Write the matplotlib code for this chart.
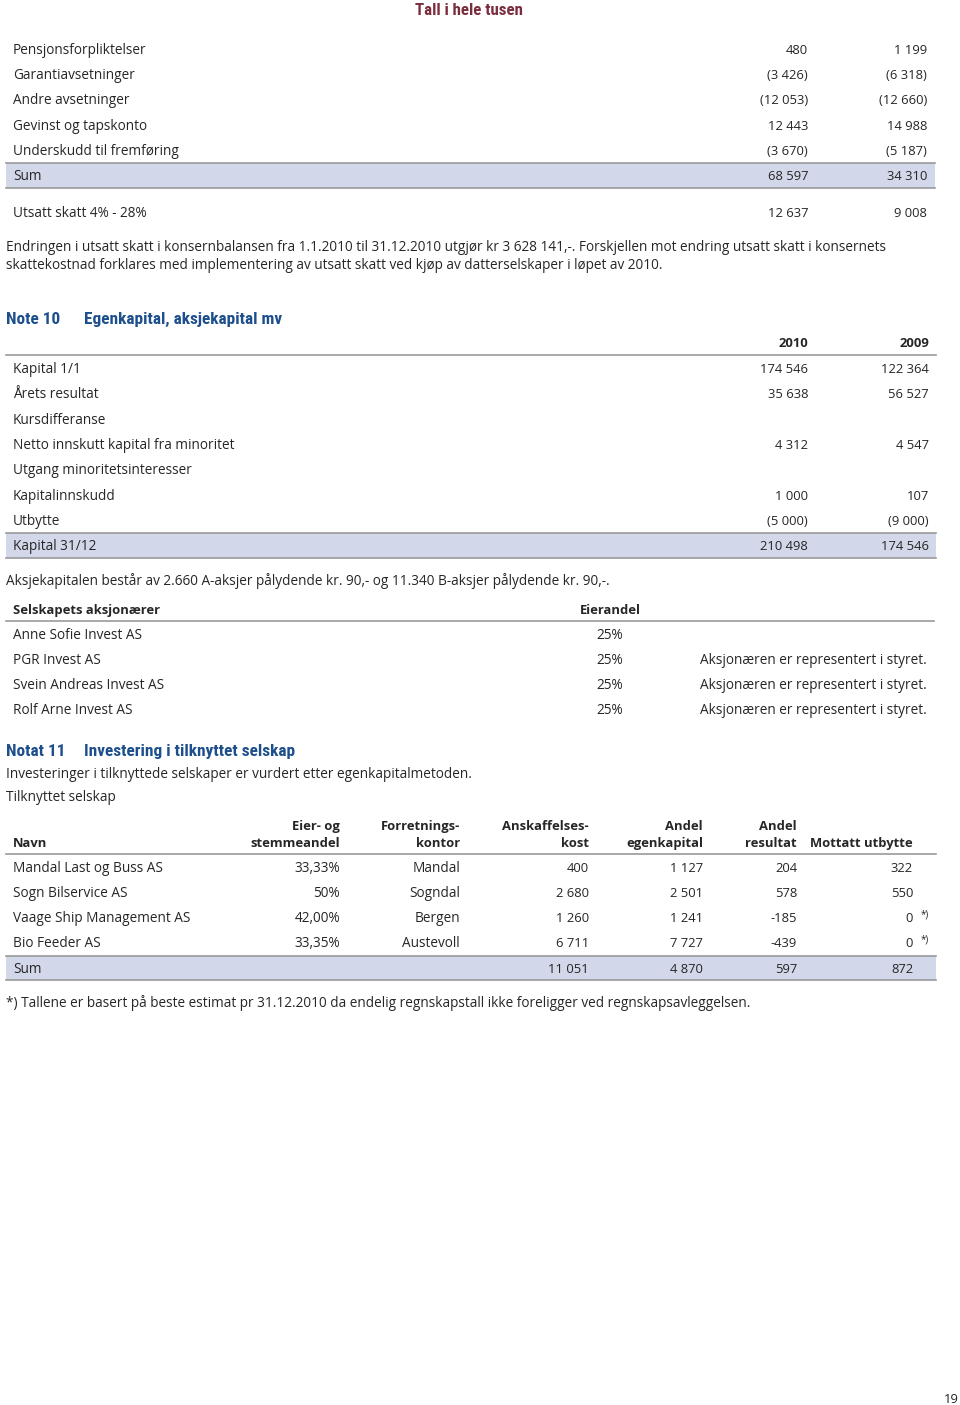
import matplotlib
matplotlib.use("Agg")
import matplotlib.pyplot as plt
from matplotlib.patches import Rectangle

plt.rcParams["font.family"] = ["Open Sans", "DejaVu Sans"]

RED = "#7b2c3d"
BLUE = "#1d4f8c"
TEXT = "#262626"
BAND = "#d3d7ea"
RULE = "#9a9a9a"
FS = 9.8      # body text
FN = 9.4      # numbers
FB = 9.4      # bold column heads
FH = 12.4     # note headings (condensed)
HEAD_FONT = ["Roboto Condensed", "DejaVu Sans"]

# --- data ---
page_title = "Tall i hele tusen"

tax_labels = ["Pensjonsforpliktelser", "Garantiavsetninger", "Andre avsetninger",
              "Gevinst og tapskonto", "Underskudd til fremføring", "Sum"]
tax_2010 = ["480", "(3 426)", "(12 053)", "12 443", "(3 670)", "68 597"]
tax_2009 = ["1 199", "(6 318)", "(12 660)", "14 988", "(5 187)", "34 310"]
deferred = ("Utsatt skatt 4% - 28%", "12 637", "9 008")
tax_note = [
    "Endringen i utsatt skatt i konsernbalansen fra 1.1.2010 til 31.12.2010 utgjør kr 3 628 141,-. "
    "Forskjellen mot endring utsatt skatt i konsernets",
    "skattekostnad forklares med implementering av utsatt skatt ved kjøp av datterselskaper i løpet av 2010.",
]

note10_title = ("Note 10", "Egenkapital, aksjekapital mv")
years = ["2010", "2009"]
eq_labels = ["Kapital 1/1", "Årets resultat", "Kursdifferanse",
             "Netto innskutt kapital fra minoritet", "Utgang minoritetsinteresser",
             "Kapitalinnskudd", "Utbytte", "Kapital 31/12"]
eq_2010 = ["174 546", "35 638", "", "4 312", "", "1 000", "(5 000)", "210 498"]
eq_2009 = ["122 364", "56 527", "", "4 547", "", "107", "(9 000)", "174 546"]
share_note = "Aksjekapitalen består av 2.660 A-aksjer pålydende kr. 90,- og 11.340 B-aksjer pålydende kr. 90,-."

holder_head = ["Selskapets aksjonærer", "Eierandel"]
holders = ["Anne Sofie Invest AS", "PGR Invest AS", "Svein Andreas Invest AS", "Rolf Arne Invest AS"]
holder_share = ["25%", "25%", "25%", "25%"]
holder_comment = ["", "Aksjonæren er representert i styret.",
                  "Aksjonæren er representert i styret.", "Aksjonæren er representert i styret."]

note11_title = ("Notat 11", "Investering i tilknyttet selskap")
note11_lines = ["Investeringer i tilknyttede selskaper er vurdert etter egenkapitalmetoden.",
                "Tilknyttet selskap"]
assoc_head_top = ["", "Eier- og", "Forretnings-", "Anskaffelses-", "Andel", "Andel", ""]
assoc_head_bot = ["Navn", "stemmeandel", "kontor", "kost", "egenkapital", "resultat", "Mottatt utbytte"]
assoc_names = ["Mandal Last og Buss AS", "Sogn Bilservice AS", "Vaage Ship Management AS",
               "Bio Feeder AS", "Sum"]
assoc_share = ["33,33%", "50%", "42,00%", "33,35%", ""]
assoc_office = ["Mandal", "Sogndal", "Bergen", "Austevoll", ""]
assoc_cost = ["400", "2 680", "1 260", "6 711", "11 051"]
assoc_equity = ["1 127", "2 501", "1 241", "7 727", "4 870"]
assoc_result = ["204", "578", "-185", "-439", "597"]
assoc_dividend = ["322", "550", "0", "0", "872"]
assoc_star = [False, False, True, True, False]
footnote = "*) Tallene er basert på beste estimat pr 31.12.2010 da endelig regnskapstall ikke foreligger ved regnskapsavleggelsen."
page_no = "19"

# --- layout ---
fig = plt.figure(figsize=(9.6, 14.05), dpi=100)
ax = fig.add_axes([0, 0, 1, 1])
ax.set_xlim(0, 960)
ax.set_ylim(1405, 0)
ax.axis("off")


def txt(x, y, s, ha="left", color=TEXT, weight="normal", size=FS, family=None):
    # y is the row centre; text sits on a baseline just below it
    kw = {"family": family} if family else {}
    ax.text(x, y + 4.8, s, ha=ha, va="baseline", color=color, fontweight=weight,
            fontsize=size, **kw)


def num(x, y, s, size=FN):
    txt(x, y, s, ha="right", size=size)


def heading(x, y, s, color=BLUE, size=FH, ha="left"):
    txt(x, y + 0.6, s, ha=ha, color=color, weight="bold", size=size, family=HEAD_FONT)


def band(y0, y1, x0=6, x1=935):
    ax.add_patch(Rectangle((x0, y0), x1 - x0, y1 - y0, facecolor=BAND, edgecolor="none"))
    ax.plot([x0, x1], [y0, y0], color=RULE, lw=1.2)
    ax.plot([x0, x1], [y1, y1], color=RULE, lw=1.2)


def rule(y, x0=6, x1=935):
    ax.plot([x0, x1], [y, y], color=RULE, lw=1.2)


heading(469, 10, page_title, color=RED, size=12.2, ha="center")

# table 1
row_y = [49, 74, 99, 125, 150, 175]
band(162.5, 187.5)
for y, lab, a, b in zip(row_y, tax_labels, tax_2010, tax_2009):
    txt(13, y, lab)
    num(808, y, a)
    num(927, y, b)
txt(13, 212, deferred[0])
num(808, 212, deferred[1])
num(927, 212, deferred[2])
for y, line in zip([246, 264], tax_note):
    txt(6, y, line)

# note 10
heading(6, 319, note10_title[0])
heading(84, 319, note10_title[1])
txt(808, 342, years[0], ha="right", weight="bold", size=FB)
txt(929, 342, years[1], ha="right", weight="bold", size=FB)
rule(354.5, x1=936)
eq_y = [368, 393, 419, 444, 469, 495, 520, 545]
band(532.5, 557.5, x1=936)
for y, lab, a, b in zip(eq_y, eq_labels, eq_2010, eq_2009):
    txt(13, y, lab)
    num(808, y, a)
    num(929, y, b)
txt(6, 580, share_note)

txt(13, 609, holder_head[0], weight="bold", size=FB)
txt(580, 609, holder_head[1], weight="bold", size=FB)
rule(620.5, x1=934)
for y, n, s, c in zip([634, 659, 684, 709], holders, holder_share, holder_comment):
    txt(13, y, n)
    num(623, y, s, size=FS)
    txt(927, y, c, ha="right")

# note 11
heading(6, 751, note11_title[0])
heading(84, 751, note11_title[1])
txt(6, 773, note11_lines[0])
txt(6, 796, note11_lines[1])

col_x = [13, 340, 460, 589, 703, 797, 913]
col_size = [FS, FS, FS, FN, FN, FN, FN]
for i, (top, bot) in enumerate(zip(assoc_head_top, assoc_head_bot)):
    ha = "left" if i == 0 else "right"
    if top:
        txt(col_x[i], 825, top, ha=ha, weight="bold", size=FB)
    txt(col_x[i], 842, bot, ha=ha, weight="bold", size=FB)
rule(853.5, x1=936)
band(955.5, 979.5, x1=936)
assoc_y = [867, 892, 917, 942, 968]
for k, y in enumerate(assoc_y):
    txt(col_x[0], y, assoc_names[k])
    cells = [assoc_share[k], assoc_office[k], assoc_cost[k], assoc_equity[k],
             assoc_result[k], assoc_dividend[k]]
    for x, c, sz in zip(col_x[1:], cells, col_size[1:]):
        num(x, y, c, size=sz)
    if assoc_star[k]:
        txt(921, y - 4, "*)", size=7)
txt(6, 1002, footnote)

num(959, 1398, page_no)

fig.savefig("out.png", dpi=100)
